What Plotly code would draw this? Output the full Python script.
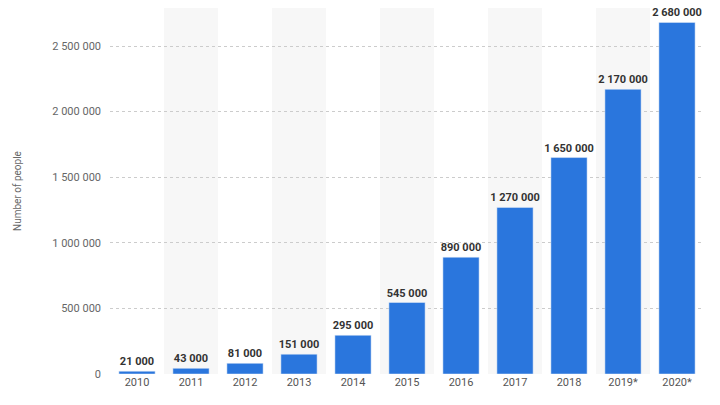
import plotly.graph_objects as go

years = ["2010", "2011", "2012", "2013", "2014", "2015", "2016", "2017", "2018", "2019*", "2020*"]
people = [21000, 43000, 81000, 151000, 295000, 545000, 890000, 1270000, 1650000, 2170000, 2680000]
tick_vals = [0, 500000, 1000000, 1500000, 2000000, 2500000]


def fmt(v):
    return f"{v:,}".replace(",", " ")


fig = go.Figure()
fig.add_trace(go.Bar(
    x=years, y=people, width=0.67,
    marker_color="#2a76dd",
    text=[fmt(v) for v in people], textposition="outside",
    constraintext="none", textangle=0,
    textfont=dict(family="Roboto", size=11, color="#333333", weight="bold"),
    cliponaxis=False,
))

# light bands behind every other year
for i in range(1, len(years), 2):
    fig.add_shape(type="rect", xref="x", yref="paper", x0=i - 0.5, x1=i + 0.5, y0=0, y1=1,
                  fillcolor="#f7f7f7", line_width=0, layer="below")

fig.update_layout(
    width=720, height=405,
    margin=dict(l=102, r=24, t=0, b=39),
    plot_bgcolor="white", paper_bgcolor="white",
    showlegend=False,
    font=dict(family="Roboto", size=11, color="#666666"),
    xaxis=dict(showgrid=False, ticks="", tickfont=dict(size=11, color="#555555")),
    yaxis=dict(range=[0, 2790000], tickvals=tick_vals, ticktext=[fmt(v) for v in tick_vals],
               showgrid=True, gridcolor="#cccccc", griddash="dot", zeroline=False,
               title=dict(text="Number of people", font=dict(size=10, color="#666666"), standoff=28),
               ticklabelstandoff=8),
)

fig.write_html("out.html")
